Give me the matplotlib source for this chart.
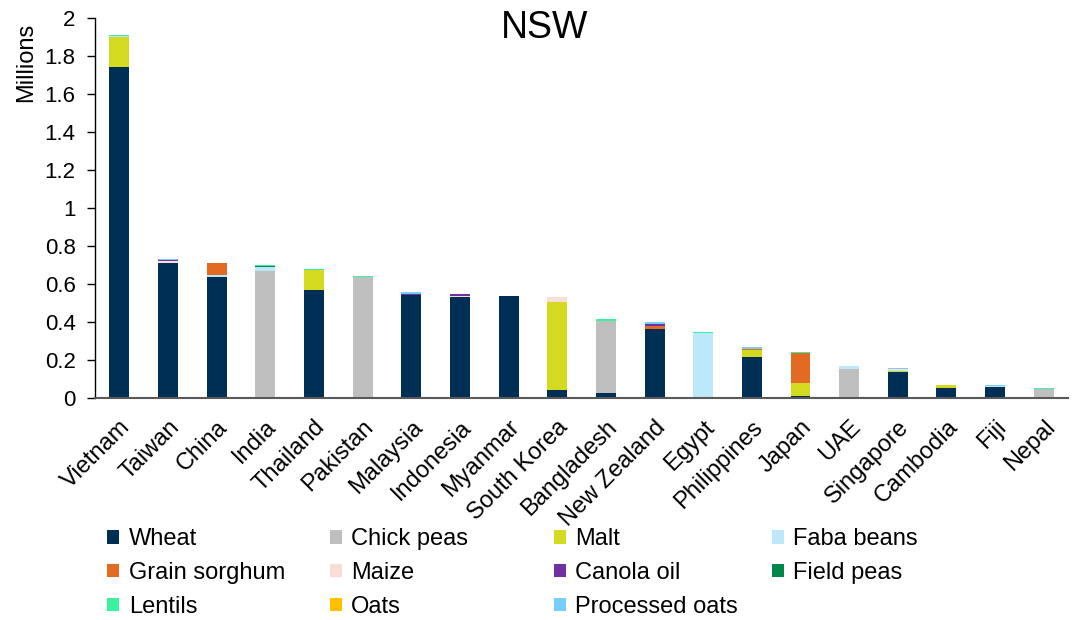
import numpy as np
import matplotlib
matplotlib.use('Agg')
import matplotlib.pyplot as plt
from matplotlib.patches import Patch

plt.rcParams['font.family'] = ['Liberation Sans', 'DejaVu Sans']

countries = ['Vietnam', 'Taiwan', 'China', 'India', 'Thailand', 'Pakistan', 'Malaysia',
             'Indonesia', 'Myanmar', 'South Korea', 'Bangladesh', 'New Zealand', 'Egypt',
             'Philippines', 'Japan', 'UAE', 'Singapore', 'Cambodia', 'Fiji', 'Nepal']

# values in millions, bottom to top of each stack
wheat =          [1.742, 0.712, 0.636, 0.007, 0.571, 0.0,   0.542, 0.532, 0.539, 0.044, 0.026, 0.365, 0.003, 0.218, 0.009, 0.004, 0.137, 0.055, 0.060, 0.0]
chick_peas =     [0.0,   0.0,   0.0,   0.660, 0.0,   0.638, 0.0,   0.0,   0.0,   0.0,   0.381, 0.0,   0.0,   0.0,   0.0,   0.149, 0.0,   0.0,   0.0,   0.050]
malt =           [0.158, 0.0,   0.0,   0.0,   0.104, 0.0,   0.0,   0.0,   0.0,   0.460, 0.0,   0.0,   0.0,   0.035, 0.072, 0.0,   0.007, 0.015, 0.0,   0.0]
faba_beans =     [0.004, 0.0,   0.009, 0.022, 0.0,   0.0,   0.0,   0.0,   0.0,   0.0,   0.0,   0.0,   0.339, 0.0,   0.0,   0.014, 0.005, 0.0,   0.005, 0.0]
grain_sorghum =  [0.0,   0.0,   0.063, 0.0,   0.0,   0.0,   0.0,   0.0,   0.0,   0.0,   0.0,   0.016, 0.0,   0.007, 0.158, 0.0,   0.0,   0.0,   0.0,   0.0]
maize =          [0.0,   0.008, 0.0,   0.0,   0.0,   0.0,   0.0,   0.004, 0.0,   0.030, 0.0,   0.0,   0.0,   0.0,   0.0,   0.0,   0.003, 0.0,   0.0,   0.0]
canola_oil =     [0.0,   0.005, 0.0,   0.0,   0.0,   0.0,   0.006, 0.010, 0.0,   0.0,   0.0,   0.011, 0.0,   0.0,   0.0,   0.0,   0.003, 0.0,   0.0,   0.0]
field_peas =     [0.0,   0.0,   0.005, 0.006, 0.0,   0.0,   0.0,   0.0,   0.0,   0.0,   0.0,   0.0,   0.0,   0.0,   0.0,   0.0,   0.0,   0.0,   0.0,   0.0]
lentils =        [0.004, 0.0,   0.0,   0.004, 0.003, 0.003, 0.0,   0.0,   0.0,   0.0,   0.007, 0.0,   0.003, 0.0,   0.002, 0.0,   0.0,   0.0,   0.0,   0.005]
oats =           [0.0,   0.0,   0.0,   0.0,   0.003, 0.0,   0.0,   0.003, 0.0,   0.0,   0.0,   0.0,   0.0,   0.0,   0.0,   0.0,   0.0,   0.0,   0.0,   0.0]
processed_oats = [0.0,   0.006, 0.0,   0.0,   0.0,   0.0,   0.008, 0.0,   0.0,   0.0,   0.0,   0.006, 0.0,   0.006, 0.0,   0.0,   0.005, 0.0,   0.003, 0.0]

series = [
    ('Wheat', wheat, '#002F56'),
    ('Chick peas', chick_peas, '#BFBFBF'),
    ('Malt', malt, '#D3DA20'),
    ('Faba beans', faba_beans, '#BDE8FC'),
    ('Grain sorghum', grain_sorghum, '#E36A23'),
    ('Maize', maize, '#F8DED4'),
    ('Canola oil', canola_oil, '#7030A0'),
    ('Field peas', field_peas, '#00874C'),
    ('Lentils', lentils, '#38F2A0'),
    ('Oats', oats, '#FFC000'),
    ('Processed oats', processed_oats, '#75CFFA'),
]

fig = plt.figure(figsize=(10.74, 6.2), dpi=100)
ax = fig.add_axes([0.0885, 0.358, 0.906, 0.613])

x = np.arange(len(countries))
bottom = np.zeros(len(countries))
for name, vals, col in series:
    vals = np.array(vals)
    ax.bar(x, vals, 0.41, bottom=bottom, color=col, label=name)
    bottom += vals

ax.set_xlim(-0.5, len(countries) - 0.5)
ax.set_ylim(0, 2)
yt = np.round(np.arange(0, 2.01, 0.2), 1)
ax.set_yticks(yt)
ax.set_yticklabels(['{:g}'.format(v) for v in yt], fontsize=16)
ax.tick_params(axis='y', direction='out', length=6, width=1, color='black', pad=8)
ax.set_xticks(x)
ax.set_xticklabels(countries, rotation=45, ha='right', rotation_mode='anchor', fontsize=17)
ax.tick_params(axis='x', length=0, pad=13)

ax.spines['top'].set_visible(False)
ax.spines['right'].set_visible(False)
ax.spines['left'].set_color('black')
ax.spines['left'].set_linewidth(1)
ax.spines['bottom'].set_color('#595959')
ax.spines['bottom'].set_linewidth(1.5)

fig.text(0.507, 0.955, 'NSW', fontsize=27, ha='center', va='center')
fig.text(0.024, 0.899, 'Millions', fontsize=17, rotation=90, ha='center', va='center')

# legend laid out in fixed-width columns like the source
handles = {name: Patch(facecolor=col) for name, _, col in series}
columns = [['Wheat', 'Grain sorghum', 'Lentils'],
           ['Chick peas', 'Maize', 'Oats'],
           ['Malt', 'Canola oil', 'Processed oats'],
           ['Faba beans', 'Field peas']]
col_x = [0.1, 0.307, 0.516, 0.719]
for cx, names in zip(col_x, columns):
    fig.legend([handles[n] for n in names], names, loc='upper left',
               bbox_to_anchor=(cx, 0.148), frameon=False, fontsize=17,
               handlelength=0.5, handleheight=0.5, handletextpad=0.4,
               labelspacing=0.5, borderpad=0, borderaxespad=0)

fig.savefig('out.png', dpi=100)
